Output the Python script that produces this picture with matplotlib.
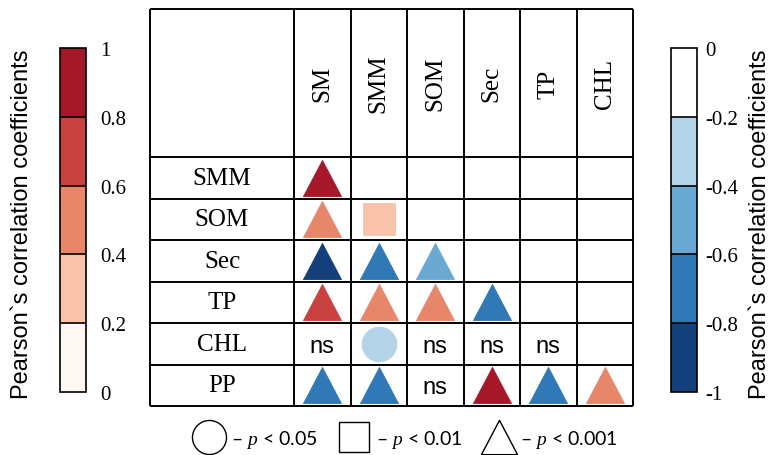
import numpy as np
import matplotlib
matplotlib.use("Agg")
import matplotlib.pyplot as plt
from matplotlib.colors import ListedColormap, BoundaryNorm
from matplotlib.cm import ScalarMappable
from matplotlib.lines import Line2D

plt.rcParams['mathtext.fontset'] = 'custom'
plt.rcParams['mathtext.it'] = 'Liberation Serif:italic'
plt.rcParams['mathtext.rm'] = 'Lato'

# ---------------- data ----------------
row_labels = ["SMM", "SOM", "Sec", "TP", "CHL", "PP"]
col_labels = ["SM", "SMM", "SOM", "Sec", "TP", "CHL"]

# estimated Pearson r (None = not significant / not shown)
r_SMM = [0.9]
r_SOM = [0.5, 0.3]
r_Sec = [-0.9, -0.7, -0.5]
r_TP = [0.7, 0.5, 0.5, -0.7]
r_CHL = [None, -0.3, None, None, None]
r_PP = [-0.7, -0.7, None, 0.9, -0.7, 0.5]
r_values = [r_SMM, r_SOM, r_Sec, r_TP, r_CHL, r_PP]

# significance: '*' p<0.05, '**' p<0.01, '***' p<0.001, 'ns'
sig_SMM = ["***"]
sig_SOM = ["***", "**"]
sig_Sec = ["***", "***", "***"]
sig_TP = ["***", "***", "***", "***"]
sig_CHL = ["ns", "*", "ns", "ns", "ns"]
sig_PP = ["***", "***", "ns", "***", "***", "***"]
sig_values = [sig_SMM, sig_SOM, sig_Sec, sig_TP, sig_CHL, sig_PP]

pos_bounds = [0, 0.2, 0.4, 0.6, 0.8, 1]
pos_tick_labels = ["0", "0.2", "0.4", "0.6", "0.8", "1"]
neg_bounds = [-1, -0.8, -0.6, -0.4, -0.2, 0]
neg_tick_labels = ["-1", "-0.8", "-0.6", "-0.4", "-0.2", "0"]

legend_labels = ["\u2013 $p$ < 0.05", "\u2013 $p$ < 0.01", "\u2013 $p$ < 0.001"]

# ---------------- style ----------------
pos_colors = ["#fff7f2", "#f9c2aa", "#e8866a", "#c8413f", "#a51729"]
neg_colors = ["#133f7a", "#3078b6", "#6aaad2", "#b3d4e8", "#ffffff"]
pos_cmap = ListedColormap(pos_colors)
neg_cmap = ListedColormap(neg_colors)
pos_norm = BoundaryNorm(pos_bounds, pos_cmap.N)
neg_norm = BoundaryNorm(neg_bounds, neg_cmap.N)

def color_of(r):
    if r >= 0:
        return pos_cmap(pos_norm(r))
    return neg_cmap(neg_norm(r))

tri = [(-1, -0.95), (1, -0.95), (0, 0.95), (-1, -0.95)]
marker_for = {"***": tri, "**": "s", "*": "o"}
size_for = {"***": 27.4 ** 2, "**": 23 ** 2, "*": 25 ** 2}

serif = "Liberation Serif"
sans = "Liberation Sans"

W, H = 772, 456
fig = plt.figure(figsize=(W / 100, H / 100), dpi=100)

def fx(px):
    return px / W

def fy(py):
    return 1 - py / H

# ---------------- table ----------------
ncol = len(col_labels)
nrow = len(row_labels)
label_w = 144 / 56.5
header_h = 148 / 41.5

ax = fig.add_axes([fx(150), fy(407), fx(633) - fx(150), fy(10) - fy(407)])
ax.set_xlim(-label_w, ncol)
ax.set_ylim(nrow, -header_h)
ax.axis("off")

lw = 1.4
xs = [-label_w] + list(range(ncol + 1))
ys = [-header_h] + list(range(nrow + 1))
ax.vlines(xs, -header_h, nrow, colors="black", linewidth=lw, clip_on=False)
ax.hlines(ys, -label_w, ncol, colors="black", linewidth=lw, clip_on=False)

for i, c in enumerate(col_labels):
    ax.text(i + 0.5, -header_h / 2, c, rotation=90, ha="center", va="center",
            fontsize=18, family=serif)
for j, rl in enumerate(row_labels):
    ax.text(-label_w / 2, j + 0.5, rl, ha="center", va="center",
            fontsize=18, family=serif)

for j, (rrow, srow) in enumerate(zip(r_values, sig_values)):
    for i, (r, s) in enumerate(zip(rrow, srow)):
        if s == "ns":
            ax.text(i + 0.5, j + 0.55, "ns", ha="center", va="center",
                    fontsize=17, family=sans)
        else:
            col = color_of(r)
            ax.scatter([i + 0.5], [j + 0.5], marker=marker_for[s], s=size_for[s],
                       color=col, edgecolors=col, linewidths=0.6, clip_on=False,
                       zorder=3)

# ---------------- colorbars ----------------
cax_l = fig.add_axes([fx(60), fy(393), fx(86) - fx(60), fy(49) - fy(393)])
cb_l = fig.colorbar(ScalarMappable(norm=pos_norm, cmap=pos_cmap), cax=cax_l,
                    drawedges=True, ticks=pos_bounds)
cb_l.ax.set_yticklabels(pos_tick_labels, family=serif, fontsize=15)
cb_l.ax.tick_params(length=0, pad=10)
cb_l.outline.set_linewidth(1.2)
cb_l.dividers.set_linewidth(1.2)

cax_r = fig.add_axes([fx(671), fy(393), fx(697) - fx(671), fy(49) - fy(393)])
cb_r = fig.colorbar(ScalarMappable(norm=neg_norm, cmap=neg_cmap), cax=cax_r,
                    drawedges=True, ticks=neg_bounds)
cb_r.ax.set_yticklabels(neg_tick_labels, family=serif, fontsize=15)
cb_r.ax.tick_params(length=0, pad=6)
cb_r.outline.set_linewidth(1.2)
cb_r.dividers.set_linewidth(1.2)

label = "Pearson`s correlation coefficients"
fig.text(fx(22), fy(224), label, rotation=90, ha="center", va="center",
         fontsize=17, family=sans)
fig.text(fx(760), fy(224), label, rotation=90, ha="center", va="center",
         fontsize=17, family=sans)

# ---------------- legend ----------------
handles = [
    Line2D([], [], linestyle="none", marker="o", markersize=24.5,
           markerfacecolor="white", markeredgecolor="black", markeredgewidth=1.0),
    Line2D([], [], linestyle="none", marker="s", markersize=21,
           markerfacecolor="white", markeredgecolor="black", markeredgewidth=1.0),
    Line2D([], [], linestyle="none", marker=tri, markersize=26,
           markerfacecolor="white", markeredgecolor="black", markeredgewidth=1.0),
]
fig.legend(handles, legend_labels, ncol=3, loc="center",
           bbox_to_anchor=(fx(405), fy(440)), frameon=False,
           handletextpad=0.2, columnspacing=1.0, handlelength=1.8,
           prop={"family": "Lato", "size": 14})

fig.savefig("out.png", dpi=100)
